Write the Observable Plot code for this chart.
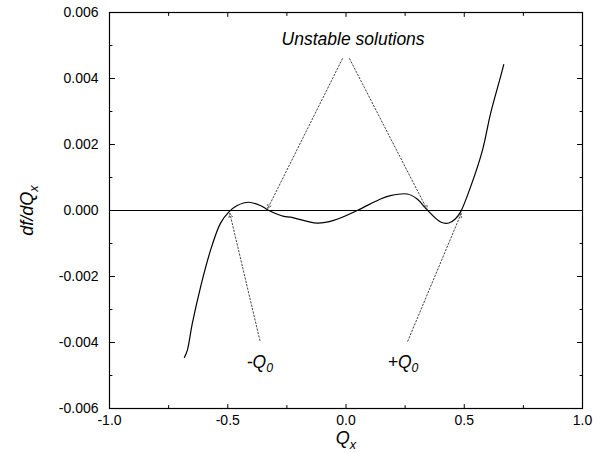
<!DOCTYPE html>
<html><head><meta charset="utf-8">
<script src="https://cdn.jsdelivr.net/npm/d3@7"></script>
<script src="https://cdn.jsdelivr.net/npm/@observablehq/plot@0.6"></script>
<style>body{margin:0;background:#fff} svg{display:block}</style>
</head><body><div id="chart"></div>
<script>
// Curve: Qx vs df/dQx
const qx   = [-0.683, -0.671, -0.650, -0.615, -0.573, -0.531, -0.496, -0.460, -0.411, -0.362, -0.326, -0.263, -0.235, -0.122, -0.052, 0.047, 0.146, 0.188, 0.259, 0.301, 0.343, 0.400, 0.435, 0.463, 0.484, 0.526, 0.576, 0.611, 0.653, 0.667];
const dfdq = [-0.00445, -0.00424, -0.00343, -0.00232, -0.00121, -0.00039, -0.00005, 0.00015, 0.00025, 0.00015, 0.0, -0.00018, -0.0002, -0.00038, -0.0003, 0.0, 0.00035, 0.00045, 0.0005, 0.00035, 0.00002, -0.00035, -0.00038, -0.00025, -0.00005, 0.0007, 0.0018, 0.00293, 0.00404, 0.00442];

// Axes
const xDomain = [-1, 1];
const yDomain = [-0.006, 0.006];
const xMajor = [-1, -0.5, 0, 0.5, 1];
const xMinor = [-0.75, -0.25, 0.25, 0.75];
const yMajor = [-0.006, -0.004, -0.002, 0, 0.002, 0.004, 0.006];
const yMinor = [-0.005, -0.003, -0.001, 0.001, 0.003, 0.005];
const xTickLabels = ["-1.0", "-0.5", "0.0", "0.5", "1.0"];
const yTickLabels = ["-0.006", "-0.004", "-0.002", "0.000", "0.002", "0.004", "0.006"];

// Annotation arrows (tail -> head)
const arrowX1 = [-0.015, 0.015, -0.364, 0.261];
const arrowY1 = [0.0046, 0.0046, -0.00394, -0.00396];
const arrowX2 = [-0.331, 0.343, -0.491, 0.487];
const arrowY2 = [0.00006, 0.00003, -0.00009, -0.00009];

// Annotation labels (centred)
const noteText = ["Unstable solutions", "-Q_0", "+Q_0"];
const noteX = [0.03, -0.364, 0.241];
const noteY = [0.0052, -0.0046, -0.0046];

const curve = qx.map((x, i) => ({x, y: dfdq[i]}));
const arrows = arrowX1.map((x1, i) => ({x1, y1: arrowY1[i], x2: arrowX2[i], y2: arrowY2[i]}));
const notes = noteText.map((t, i) => ({t, x: noteX[i], y: noteY[i]}));

const tickShape = {draw(context, l) { context.moveTo(0, 0); context.lineTo(0, -l); }};
const ticks = (vals, xf, yf, rot, len) => Plot.vector(vals, {x: xf, y: yf, rotate: rot, length: len, anchor: "start", shape: tickShape, stroke: "black", strokeWidth: 1});

const svg = Plot.plot({
  width: 604, height: 453,
  marginLeft: 109, marginRight: 22, marginTop: 12, marginBottom: 45,
  style: {fontFamily: "'Liberation Sans', Arial, sans-serif", background: "white"},
  x: {domain: xDomain},
  y: {domain: yDomain},
  marks: [
    Plot.axisX({ticks: xMajor, tickFormat: (d) => xTickLabels[xMajor.indexOf(d)], tickSize: 0, tickPadding: 7, fontSize: 14, label: null, color: "black"}),
    Plot.axisY({ticks: yMajor, tickFormat: (d) => yTickLabels[yMajor.indexOf(d)], tickSize: 0, tickPadding: 11, fontSize: 14, label: null, color: "black"}),
    ticks(xMajor, d => d, () => yDomain[0], 0, 4),
    ticks(xMinor, d => d, () => yDomain[0], 0, 3),
    ticks(xMajor, d => d, () => yDomain[1], 180, 4),
    ticks(xMinor, d => d, () => yDomain[1], 180, 3),
    ticks(yMajor, () => xDomain[0], d => d, 90, 5),
    ticks(yMinor, () => xDomain[0], d => d, 90, 2.5),
    ticks(yMajor, () => xDomain[1], d => d, -90, 5),
    ticks(yMinor, () => xDomain[1], d => d, -90, 2.5),
    Plot.ruleY([0], {stroke: "black", strokeWidth: 1.2}),
    Plot.frame({stroke: "black", strokeWidth: 1.2}),
    Plot.line(curve, {x: "x", y: "y", curve: "catmull-rom", stroke: "black", strokeWidth: 1.2}),
    Plot.arrow(arrows, {x1: "x1", y1: "y1", x2: "x2", y2: "y2", stroke: "#444", strokeWidth: 1, strokeDasharray: "1.5,2", headLength: 6, headAngle: 50}),
    Plot.text(notes, {x: "x", y: "y", text: "t", textAnchor: "middle", fontSize: 17.5, fontStyle: "italic", fill: "black"}),
    Plot.text(["Q_x"], {frameAnchor: "bottom", textAnchor: "middle", lineAnchor: "middle", dy: 30, fontSize: 18, fontStyle: "italic", fill: "black"}),
    Plot.text(["df/dQ_x"], {frameAnchor: "left", textAnchor: "middle", lineAnchor: "middle", rotate: -90, dx: -82, fontSize: 18, fontStyle: "italic", fill: "black"})
  ]
});

const ns = "http://www.w3.org/2000/svg";
svg.querySelectorAll("text").forEach(t => {
  const s = t.textContent;
  if (s.includes("_") && t.children.length === 0) {
    const [a, b] = s.split("_");
    t.textContent = "";
    const t1 = document.createElementNS(ns, "tspan"); t1.textContent = a;
    const t2 = document.createElementNS(ns, "tspan"); t2.textContent = b;
    t2.setAttribute("dy", "0.35em"); t2.setAttribute("font-size", "0.7em");
    t.append(t1, t2);
  }
});
document.getElementById("chart").append(svg);
</script></body></html>
